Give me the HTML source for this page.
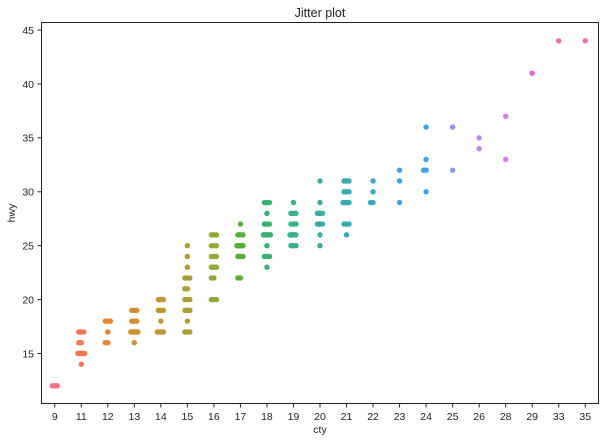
<!DOCTYPE html>
<html><head><meta charset="utf-8"><style>
body{margin:0;background:#fff;font-family:"Liberation Sans","DejaVu Sans",sans-serif}
svg{display:block}
</style></head><body>
<svg id="chart" width="606" height="441">
<rect x="0" y="0" width="606" height="441" fill="#fff"/>
<text x="320" y="17" font-size="12.5" text-anchor="middle" fill="#222">Jitter plot</text>
<g id="marks"></g>
<g id="axes"></g>
<rect x="41.5" y="22.5" width="557" height="381" fill="none" stroke="#222" stroke-width="1"/>
<text x="320" y="433" font-size="10.5" text-anchor="middle" fill="#222">cty</text>
<text x="0" y="0" font-size="10.5" text-anchor="middle" fill="#222" transform="translate(15,213) rotate(-90)">hwy</text>
</svg>
<script>
const categories=[9,11,12,13,14,15,16,17,18,19,20,21,22,23,24,25,26,28,29,33,35];
const colors=["#f77189","#f7754f","#e8832e","#d08f31","#c39532","#ae9d31","#8eaa31","#53b032","#35b272","#36b08f","#36ada4","#37abb4","#38a9c5","#3ba3ec","#3ba3ec","#8e96f4","#bb83f4","#d97af0","#f15fd6","#f565b5","#f66bac"];
// [category, hwy, count]
const points=[
[9,12,5],
[11,17,4],[11,16,2],[11,15,8],[11,14,1],
[12,18,4],[12,17,1],[12,16,2],
[13,19,3],[13,18,4],[13,17,8],[13,16,1],
[14,20,4],[14,19,4],[14,18,1],[14,17,6],
[15,25,1],[15,24,1],[15,23,1],[15,22,3],[15,21,2],[15,20,3],[15,19,4],[15,18,1],[15,17,3],
[16,26,3],[16,25,3],[16,24,3],[16,23,5],[16,22,2],[16,20,4],
[17,27,1],[17,26,4],[17,25,6],[17,24,4],[17,22,2],
[18,29,4],[18,28,1],[18,27,4],[18,26,8],[18,25,1],[18,24,3],[18,23,1],
[19,29,1],[19,28,3],[19,27,3],[19,26,6],[19,25,4],
[20,31,1],[20,29,1],[20,28,4],[20,27,4],[20,26,1],[20,25,1],
[21,31,5],[21,30,3],[21,29,6],[21,27,3],[21,26,1],
[22,31,1],[22,30,1],[22,29,2],
[23,32,1],[23,31,1],[23,29,1],
[24,36,1],[24,33,1],[24,32,2],[24,30,1],
[25,36,1],[25,32,1],
[26,35,1],[26,34,1],
[28,37,1],[28,33,1],
[29,41,1],[33,44,1],[35,44,1]
];
const yTicks=[15,20,25,30,35,40,45];
const NS="http://www.w3.org/2000/svg";
const X0=41.5,X1=598.5,Y0=403.5,Y1=22.5,YMIN=10.36,YMAX=45.7;
function xScale(i){return X0+(i+0.5)*(X1-X0)/categories.length;}
function yScale(v){return Y0-(v-YMIN)*(Y0-Y1)/(YMAX-YMIN);}
const jit=[0,-2.5,2.5,-1.2,1.2,-3.5,3.5,-0.6,0.6,-2,2];
const marks=document.getElementById('marks');
points.forEach(p=>{
  const ci=categories.indexOf(p[0]);
  for(let k=0;k<p[2];k++){
    const c=document.createElementNS(NS,'circle');
    c.setAttribute('cx',xScale(ci)+(p[2]>1?jit[k%jit.length]:0));
    c.setAttribute('cy',yScale(p[1]));
    c.setAttribute('r',2.7);
    c.setAttribute('fill',colors[ci]);
    
    
    marks.appendChild(c);
  }
});
const axes=document.getElementById('axes');
categories.forEach((c,i)=>{
  const x=xScale(i);
  const l=document.createElementNS(NS,'line');
  l.setAttribute('x1',x);l.setAttribute('x2',x);l.setAttribute('y1',403.5);l.setAttribute('y2',407.5);
  l.setAttribute('stroke','#222');
  
  
  axes.appendChild(l);
  const t=document.createElementNS(NS,'text');
  t.setAttribute('x',x);t.setAttribute('y',420);t.setAttribute('font-size','10.5');
  t.setAttribute('text-anchor','middle');t.setAttribute('fill','#222');
  t.textContent=c;
  
  
  axes.appendChild(t);
});
yTicks.forEach(v=>{
  const y=yScale(v);
  const l=document.createElementNS(NS,'line');
  l.setAttribute('x1',37.5);l.setAttribute('x2',41.5);l.setAttribute('y1',y);l.setAttribute('y2',y);
  l.setAttribute('stroke','#222');
  
  
  axes.appendChild(l);
  const t=document.createElementNS(NS,'text');
  t.setAttribute('x',34);t.setAttribute('y',y+3.8);t.setAttribute('font-size','10.5');
  t.setAttribute('text-anchor','end');t.setAttribute('fill','#222');
  t.textContent=v;
  
  
  axes.appendChild(t);
});
</script>
</body></html>
